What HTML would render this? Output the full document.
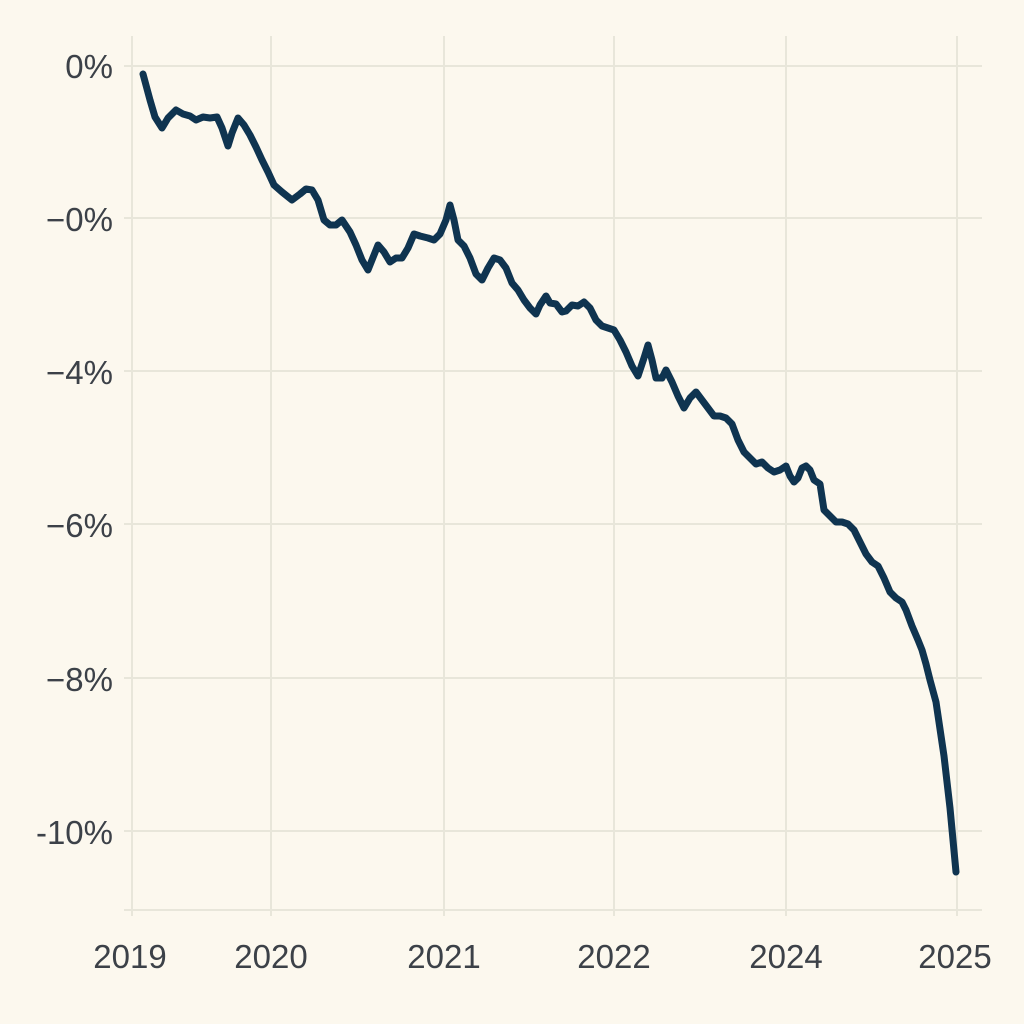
<!DOCTYPE html>
<html><head><style>
html,body{margin:0;padding:0;background:#fcf8ee;}
svg{display:block;}
text{font-family:"Liberation Sans","DejaVu Sans",sans-serif;fill:#3c4148;font-size:33px;}
</style></head><body>
<svg width="1024" height="1024" viewBox="0 0 1024 1024">
<rect width="1024" height="1024" fill="#fcf8ee"/>
<g stroke="#e8e6da" stroke-width="2">
<line x1="124" y1="66" x2="982" y2="66"/>
<line x1="124" y1="218" x2="982" y2="218"/>
<line x1="124" y1="371" x2="982" y2="371"/>
<line x1="124" y1="524" x2="982" y2="524"/>
<line x1="124" y1="678" x2="982" y2="678"/>
<line x1="124" y1="831" x2="982" y2="831"/>
<line x1="124" y1="910" x2="982" y2="910"/>
<line x1="132" y1="36" x2="132" y2="916"/>
<line x1="271" y1="36" x2="271" y2="916"/>
<line x1="444" y1="36" x2="444" y2="916"/>
<line x1="614" y1="36" x2="614" y2="916"/>
<line x1="786" y1="36" x2="786" y2="916"/>
<line x1="957" y1="36" x2="957" y2="916"/>
</g>
<g text-anchor="end">
<text x="113" y="78">0%</text>
<text x="113" y="231">−0%</text>
<text x="113" y="384">−4%</text>
<text x="113" y="537">−6%</text>
<text x="113" y="691">−8%</text>
<text x="113" y="844">-10%</text>
</g>
<g text-anchor="middle">
<text x="130" y="968">2019</text>
<text x="271" y="968">2020</text>
<text x="444" y="968">2021</text>
<text x="614" y="968">2022</text>
<text x="786" y="968">2024</text>
<text x="955" y="968">2025</text>
</g>
<polyline fill="none" stroke="#0f3450" stroke-width="7" stroke-linejoin="round" stroke-linecap="round" points="143,74 150,100 155,117 162,128 168,118 176,110 183,114 190,116 196,120 203,117 210,118 217,117 222,128 228,146 232,133 238,118 244,125 250,135 256,147 262,160 268,172 274,185 282,192 292,200 300,194 306,189 312,190 318,200 324,220 330,225 336,225 342,220 350,232 356,245 362,260 368,270 374,255 378,245 384,252 390,262 396,258 402,258 408,248 414,234 420,236 428,238 434,240 440,234 446,220 450,205 454,220 458,240 464,246 470,258 476,274 482,280 488,268 494,258 500,260 506,268 512,283 518,290 524,300 530,308 536,314 540,305 546,296 550,303 556,304 562,312 566,311 572,305 578,306 584,302 590,308 596,320 602,326 608,328 614,330 620,340 626,352 632,366 638,376 644,358 648,345 652,360 656,378 662,378 666,370 672,382 678,396 684,408 690,398 696,392 702,400 708,408 714,416 720,416 726,418 732,424 738,440 744,452 750,458 756,464 762,462 768,468 774,472 780,470 786,466 790,476 794,482 798,478 802,468 806,466 810,470 814,480 820,484 824,510 830,516 836,522 842,522 848,524 854,530 860,542 866,554 872,562 878,566 884,578 890,592 896,598 902,602 906,610 912,626 918,640 922,650 926,664 930,680 936,702 944,756 950,808 956,872"/>
</svg>
</body></html>
